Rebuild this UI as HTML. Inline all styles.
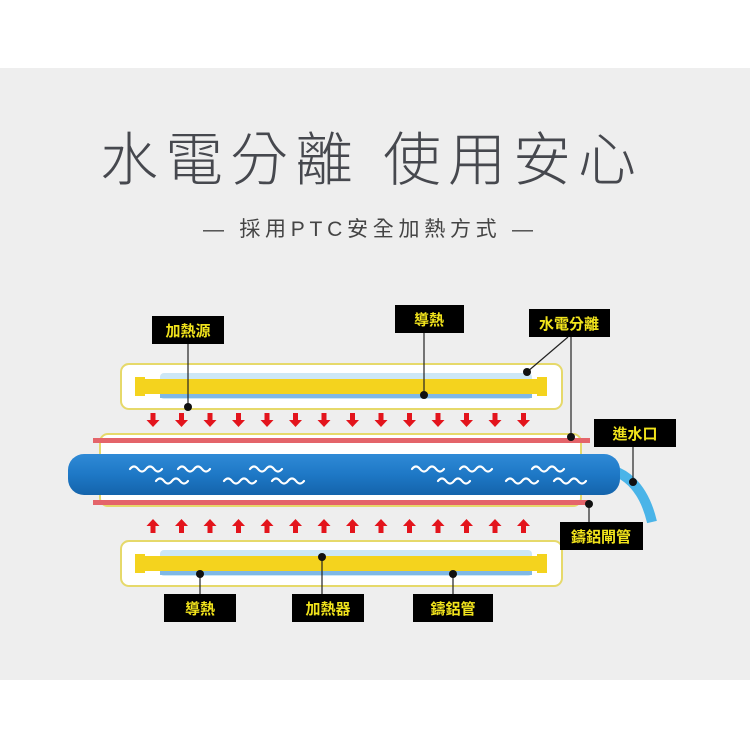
<!DOCTYPE html>
<html><head><meta charset="utf-8"><style>
html,body{margin:0;padding:0;background:#fff}
svg{display:block}
.t{font-family:"Liberation Sans","Noto Sans CJK TC",sans-serif}
.lb{font-family:"Liberation Sans","Noto Sans CJK TC",sans-serif;font-weight:bold;font-size:15px;fill:#f2e41c;text-anchor:middle}
</style></head><body>
<svg width="750" height="750" viewBox="0 0 750 750" xmlns="http://www.w3.org/2000/svg">
<defs>
<linearGradient id="bt" x1="0" y1="0" x2="0" y2="1">
<stop offset="0" stop-color="#2f8ad6"/><stop offset="0.5" stop-color="#1e78c6"/><stop offset="1" stop-color="#1464ab"/>
</linearGradient>
<g id="da"><path d="M-2.5,-7h5v7h4l-6.5,7l-6.5,-7h4z" fill="#e3141c"/></g>
<g id="ua"><path d="M-2.5,7h5v-7h4l-6.5,-7l-6.5,7h4z" fill="#e3141c"/></g>
<path id="w" d="M0,3 q4,-5 8,0 t8,0 t8,0 t8,0" fill="none" stroke="#fff" stroke-width="2.2" stroke-linecap="round"/>
</defs>
<rect x="0" y="68" width="750" height="612" fill="#eeeeee"/>
<text class="t" x="368" y="180" font-size="58" font-weight="300" fill="#46484e" text-anchor="middle" textLength="536" lengthAdjust="spacing">水電分離 使用安心</text>
<text class="t" x="368" y="236" font-size="21" fill="#444" text-anchor="middle" textLength="330" lengthAdjust="spacing">— 採用PTC安全加熱方式 —</text>

<!-- top heater -->
<rect x="121" y="364" width="441" height="45" rx="8" fill="#fff" stroke="#e6d96a" stroke-width="2"/>
<rect x="160" y="373" width="372" height="26" rx="4" fill="#cde7f6"/>
<rect x="160" y="393" width="372" height="5" fill="#7fb8e6"/>
<rect x="142" y="379" width="398" height="15" fill="#f4d31e"/>
<rect x="135" y="377" width="10" height="19" fill="#f4d31e"/>
<rect x="537" y="377" width="10" height="19" fill="#f4d31e"/>

<!-- bottom heater -->
<rect x="121" y="541" width="441" height="45" rx="8" fill="#fff" stroke="#e6d96a" stroke-width="2"/>
<rect x="160" y="550" width="372" height="26" rx="4" fill="#cde7f6"/>
<rect x="160" y="570" width="372" height="5" fill="#7fb8e6"/>
<rect x="142" y="556" width="398" height="15" fill="#f4d31e"/>
<rect x="135" y="554" width="10" height="19" fill="#f4d31e"/>
<rect x="537" y="554" width="10" height="19" fill="#f4d31e"/>

<!-- arrows -->
<g>
<use href="#da" x="153" y="420"/><use href="#da" x="181.5" y="420"/><use href="#da" x="210" y="420"/><use href="#da" x="238.5" y="420"/><use href="#da" x="267" y="420"/><use href="#da" x="295.5" y="420"/><use href="#da" x="324" y="420"/><use href="#da" x="352.5" y="420"/><use href="#da" x="381" y="420"/><use href="#da" x="409.5" y="420"/><use href="#da" x="438" y="420"/><use href="#da" x="466.5" y="420"/><use href="#da" x="495" y="420"/><use href="#da" x="523.5" y="420"/>
<use href="#ua" x="153" y="526"/><use href="#ua" x="181.5" y="526"/><use href="#ua" x="210" y="526"/><use href="#ua" x="238.5" y="526"/><use href="#ua" x="267" y="526"/><use href="#ua" x="295.5" y="526"/><use href="#ua" x="324" y="526"/><use href="#ua" x="352.5" y="526"/><use href="#ua" x="381" y="526"/><use href="#ua" x="409.5" y="526"/><use href="#ua" x="438" y="526"/><use href="#ua" x="466.5" y="526"/><use href="#ua" x="495" y="526"/><use href="#ua" x="523.5" y="526"/>
</g>

<!-- inner tube -->
<rect x="100" y="434" width="481" height="72" rx="8" fill="#fff" stroke="#e6d96a" stroke-width="2"/>
<rect x="93" y="438" width="497" height="5" fill="#e4646a"/>
<rect x="93" y="500" width="497" height="5" fill="#e4646a"/>
<!-- hose -->
<path d="M612,470 q30,10 40,52" fill="none" stroke="#4ab4e8" stroke-width="10"/>
<rect x="68" y="454" width="552" height="41" rx="16" fill="url(#bt)"/>
<use href="#w" x="130" y="466"/><use href="#w" x="178" y="466"/><use href="#w" x="250" y="466"/>
<use href="#w" x="156" y="478"/><use href="#w" x="224" y="478"/><use href="#w" x="272" y="478"/>
<use href="#w" x="412" y="466"/><use href="#w" x="460" y="466"/><use href="#w" x="532" y="466"/>
<use href="#w" x="438" y="478"/><use href="#w" x="506" y="478"/><use href="#w" x="554" y="478"/>

<!-- leader lines -->
<g stroke="#222" stroke-width="1.2" fill="none">
<line x1="188" y1="344" x2="188" y2="407"/>
<line x1="424" y1="333" x2="424" y2="395"/>
<line x1="568" y1="337" x2="527" y2="372"/>
<line x1="571" y1="337" x2="571" y2="437"/>
<line x1="633" y1="447" x2="633" y2="482"/>
<line x1="589" y1="522" x2="589" y2="504"/>
<line x1="200" y1="594" x2="200" y2="574"/>
<line x1="322" y1="594" x2="322" y2="557"/>
<line x1="453" y1="594" x2="453" y2="574"/>
</g>
<g fill="#111">
<circle cx="188" cy="407" r="4"/><circle cx="424" cy="395" r="4"/><circle cx="527" cy="372" r="4"/>
<circle cx="571" cy="437" r="4"/><circle cx="633" cy="482" r="4"/><circle cx="589" cy="504" r="4"/>
<circle cx="200" cy="574" r="4"/><circle cx="322" cy="557" r="4"/><circle cx="453" cy="574" r="4"/>
</g>

<!-- labels -->
<g fill="#000">
<rect x="152" y="316" width="72" height="28"/>
<rect x="395" y="305" width="69" height="28"/>
<rect x="529" y="309" width="81" height="28"/>
<rect x="594" y="419" width="82" height="28"/>
<rect x="560" y="522" width="83" height="28"/>
<rect x="164" y="594" width="72" height="28"/>
<rect x="292" y="594" width="72" height="28"/>
<rect x="413" y="594" width="80" height="28"/>
</g>
<text class="lb" x="188" y="336">加熱源</text>
<text class="lb" x="429" y="325">導熱</text>
<text class="lb" x="569" y="329">水電分離</text>
<text class="lb" x="635" y="439">進水口</text>
<text class="lb" x="601" y="542">鑄鋁閘管</text>
<text class="lb" x="200" y="614">導熱</text>
<text class="lb" x="328" y="614">加熱器</text>
<text class="lb" x="453" y="614">鑄鋁管</text>
</svg>
</body></html>
